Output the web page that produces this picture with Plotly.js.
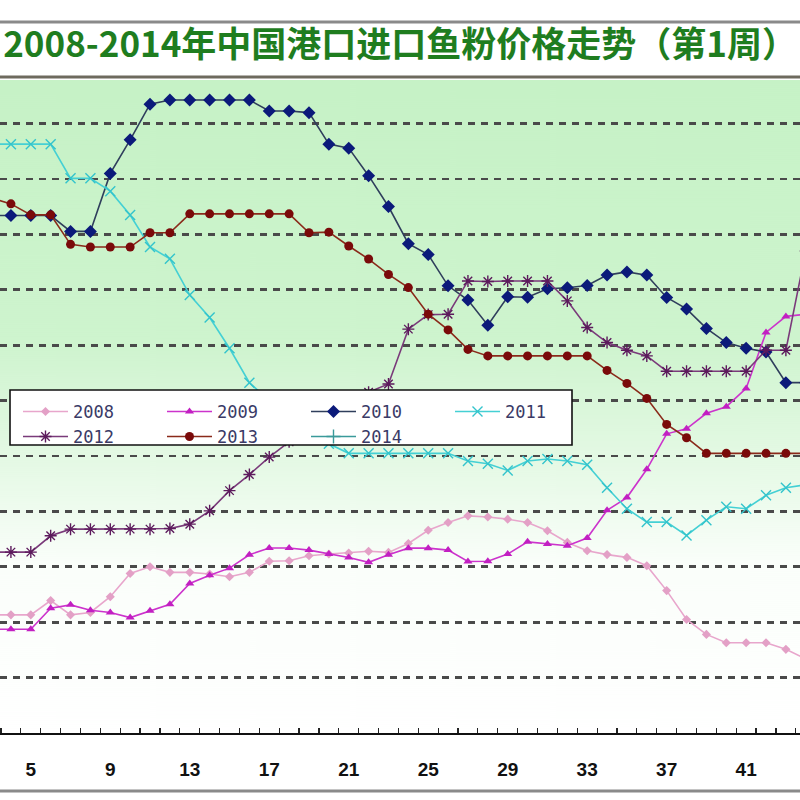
<!DOCTYPE html>
<html>
<head>
<meta charset="utf-8">
<script src="https://cdn.plot.ly/plotly-3.0.1.min.js"></script>
<style>
  html, body { margin: 0; padding: 0; background: #ffffff; }
  #chart { width: 800px; height: 800px; }
</style>
</head>
<body>
<div id="chart"></div>
<script>
// Weekly import prices (yuan / tonne) at Chinese ports, weeks 3-44.
const weeks = [3,4,5,6,7,8,9,10,11,12,13,14,15,16,17,18,19,20,21,22,23,24,25,26,27,28,29,30,31,32,33,34,35,36,37,38,39,40,41,42,43,44];

const price2008 = [5133,5133,5133,5390,5133,5175,5460,5880,6000,5900,
                   5900,5870,5820,5900,6100,6110,6200,6230,6250,6280,
                   6260,6420,6660,6800,6920,6900,6860,6800,6650,6440,
                   6290,6220,6170,6020,5570,5050,4780,4630,4630,4630,
                   4510,4340];
const price2009 = [4873,4873,4873,5253,5313,5217,5175,5084,5205,5325,
                   5700,5849,5976,6217,6340,6340,6301,6229,6169,6080,
                   6217,6337,6337,6301,6096,6100,6230,6450,6410,6380,
                   6520,7020,7250,7760,8400,8490,8770,8890,9220,10230,
                   10520,10560];
const price2010 = [12341,12341,12340,12340,12054,12054,13100,13707,14350,14425,
                   14425,14425,14425,14425,14228,14228,14198,13629,13557,13060,
                   12503,11832,11635,11072,10814,10360,10875,10865,11020,11036,
                   11078,11265,11323,11265,10862,10655,10303,10048,9945,9876,
                   9324,9324];
const price2011 = [13629,13629,13629,13629,13012,13012,12780,12350,11772,11560,
                   10905,10500,9945,9324,9000,8750,8450,8220,8048,8048,
                   8048,8048,8048,8048,7910,7860,7740,7910,7945,7910,
                   7841,7428,7048,6807,6807,6566,6841,7083,7048,7290,
                   7428,7480];
const price2012 = [6265,6265,6265,6560,6680,6680,6680,6680,6680,6690,
                   6770,7010,7375,7665,7980,8255,8500,8750,8950,9150,
                   9300,10290,10552,10560,11160,11150,11160,11160,11160,10800,
                   10320,10048,9910,9807,9531,9531,9531,9531,9531,9910,
                   9910,11700];
const price2013 = [12660,12551,12353,12353,11820,11772,11772,11772,12030,12030,
                   12371,12371,12371,12371,12371,12371,12030,12040,11790,11555,
                   11277,11040,10560,10276,9924,9807,9807,9807,9807,9807,
                   9807,9545,9310,9040,8570,8330,8048,8048,8048,8048,
                   8048,8048];
const weeks2014 = [1];
const price2014 = [9500];

const weekLabels = [5,9,13,17,21,25,29,33,37,41];

// plot-area geometry helpers (pixels -> paper)
const PLOT_TOP = 80, PLOT_BOTTOM = 733;
const py = Y => (PLOT_BOTTOM - Y) / (PLOT_BOTTOM - PLOT_TOP);
const px = X => X / 800;

// green-to-white backdrop of the plotting area
function backdrop() {
  const c = document.createElement('canvas');
  c.width = 8; c.height = 653;
  const g = c.getContext('2d');
  const grad = g.createLinearGradient(0, 0, 0, 653);
  grad.addColorStop(0.00, 'rgb(198,242,198)');
  grad.addColorStop(0.40, 'rgb(206,244,206)');
  grad.addColorStop(0.58, 'rgb(228,249,228)');
  grad.addColorStop(0.74, 'rgb(250,254,250)');
  grad.addColorStop(1.00, 'rgb(255,255,255)');
  g.fillStyle = grad;
  g.fillRect(0, 0, 8, 653);
  return c.toDataURL('image/png');
}

function series(name, x, y, lineColor, markerColor, symbol, size, legendId, open) {
  return {
    type: 'scatter', mode: 'lines+markers', name: name, x: x, y: y,
    legend: legendId,
    line: { color: lineColor, width: 1.6 },
    marker: open
      ? { symbol: symbol, size: size, color: markerColor, line: { color: markerColor, width: 1.4 } }
      : { symbol: symbol, size: size, color: markerColor, line: { width: 0 } },
    cliponaxis: true
  };
}

const traces = [
  series('2008', weeks, price2008, '#e8a6cc', '#e3a0c6', 'diamond', 7, 'legend', false),
  series('2009', weeks, price2009, '#cc33cc', '#c21fc2', 'triangle-up', 8, 'legend', false),
  series('2010', weeks, price2010, '#2f3e5c', '#0b1a7a', 'diamond', 10, 'legend', false),
  series('2011', weeks, price2011, '#44d0d4', '#33c4cc', 'x-thin-open', 10, 'legend', true),
  series('2012', weeks, price2012, '#7a3a7a', '#5c1a5c', 'asterisk-open', 10, 'legend2', true),
  series('2013', weeks, price2013, '#8a2a1a', '#7a0a0a', 'circle', 9, 'legend2', false),
  series('2014', weeks2014, price2014, '#3a9a9a', '#3a9a9a', 'cross-thin-open', 10, 'legend2', true)
];

const legendFont = { family: 'DejaVu Sans Mono', size: 17, color: '#3a3a66' };

const layout = {
  width: 800, height: 800,
  margin: { l: 0, r: 0, t: PLOT_TOP, b: 800 - PLOT_BOTTOM, pad: 0 },
  paper_bgcolor: '#ffffff',
  plot_bgcolor: 'rgba(0,0,0,0)',
  showlegend: true,
  title: {
    text: '2008-2014年中国港口进口鱼粉价格走势（第1周）',
    font: { family: 'Noto Sans CJK SC', size: 35, color: '#1f7d1f', weight: 'bold' },
    x: 0.004, xanchor: 'left', xref: 'container',
    y: 1 - 45 / 800, yanchor: 'middle', yref: 'container'
  },
  xaxis: {
    range: [3.45, 43.71],
    tickmode: 'array', tickvals: weekLabels, ticktext: weekLabels.map(String),
    ticks: '', ticklabelstandoff: 18,
    tickfont: { family: 'Liberation Sans', size: 19, color: '#111111', weight: 'bold' },
    minor: { tick0: 0.5, dtick: 1, ticks: 'inside', ticklen: 5, tickwidth: 1.2, tickcolor: '#222222', showgrid: false },
    showgrid: false, zeroline: false,
    showline: true, linecolor: '#111111', linewidth: 2
  },
  yaxis: {
    range: [3000, 14787],
    tick0: 0, dtick: 1000,
    showticklabels: false, ticks: '',
    showgrid: true, gridcolor: '#4a4a4a', gridwidth: 2.6, griddash: '7px,6px',
    zeroline: false, showline: false
  },
  legend: {
    orientation: 'h', x: px(18), xanchor: 'left', y: py(394), yanchor: 'top',
    bgcolor: 'rgba(0,0,0,0)', borderwidth: 0,
    font: legendFont, itemwidth: 45, entrywidth: 84, entrywidthmode: 'pixels',
    tracegroupgap: 0, traceorder: 'normal'
  },
  legend2: {
    orientation: 'h', x: px(18), xanchor: 'left', y: py(419), yanchor: 'top',
    bgcolor: 'rgba(0,0,0,0)', borderwidth: 0,
    font: legendFont, itemwidth: 45, entrywidth: 84, entrywidthmode: 'pixels',
    tracegroupgap: 0, traceorder: 'normal'
  },
  images: [{
    source: backdrop(), xref: 'paper', yref: 'paper', x: 0, y: 1,
    sizex: 1, sizey: 1, sizing: 'stretch', xanchor: 'left', yanchor: 'top', layer: 'below'
  }],
  shapes: [
    // legend frame
    { type: 'rect', xref: 'paper', yref: 'paper', x0: px(10), x1: px(572), y0: py(445), y1: py(390),
      fillcolor: '#ffffff', line: { color: '#111111', width: 1.6 }, layer: 'above' },
    // title band rules
    { type: 'line', xref: 'paper', yref: 'paper', x0: 0, x1: 1, y0: py(22), y1: py(22),
      line: { color: '#8a8a8a', width: 3 } },
    { type: 'line', xref: 'paper', yref: 'paper', x0: 0, x1: 1, y0: py(77), y1: py(77),
      line: { color: '#6e6a5e', width: 3 } },
    // bottom rule
    { type: 'line', xref: 'paper', yref: 'paper', x0: 0, x1: 1, y0: py(791), y1: py(791),
      line: { color: '#8a8a8a', width: 3 } }
  ]
};

Plotly.newPlot('chart', traces, layout, { displayModeBar: false, staticPlot: true });
</script>
</body>
</html>
